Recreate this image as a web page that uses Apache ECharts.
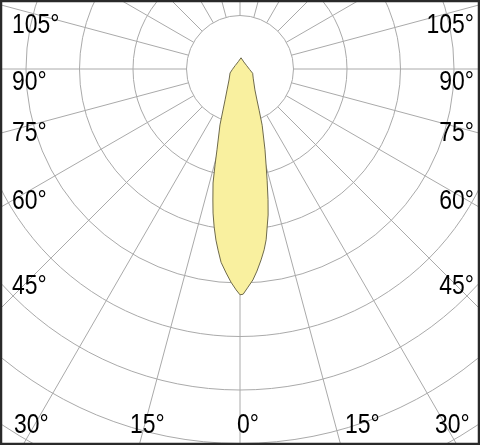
<!DOCTYPE html>
<html>
<head>
<meta charset="utf-8">
<script src="https://cdn.jsdelivr.net/npm/echarts@6/dist/echarts.min.js"></script>
<style>
html,body{margin:0;padding:0;background:#fff;}
#chart{width:480px;height:445px;}
</style>
</head>
<body>
<div id="chart"></div>
<script>
// Light distribution (angle in degrees, 0 = straight down, counter-clockwise on screen; radius in grid-ring units)
const lobeAngles = [0, 0.8, 2.1, 3.5, 4.8, 6.3, 7.6, 8.7, 9.5, 10.9, 12.1, 13.7, 15.2, 17.2, 21.5, 24.9, 28.7, 35.5, 55.3, 71.3, 87.1, 115.6, 151.6, 174.8,
  193.6, 232.1, 272.0, 291.8, 315.0, 328.2, 334.2, 337.5, 340.3, 344.1, 345.4, 346.7, 348.3, 349.4, 350.7, 352.0, 353.1, 354.4, 356.1, 357.6, 359.0, 360];
const lobeValues = [4.22, 4.21, 4.08, 3.95, 3.79, 3.59, 3.41, 3.23, 3.05, 2.78, 2.50, 2.14, 1.86, 1.58, 1.13, 0.85, 0.66, 0.48, 0.30, 0.25, 0.18, 0.14, 0.15, 0.21,
  0.14, 0.11, 0.14, 0.20, 0.29, 0.46, 0.64, 0.83, 1.11, 1.57, 1.85, 2.19, 2.50, 2.74, 2.99, 3.23, 3.41, 3.63, 3.82, 3.99, 4.13, 4.22];

// Tick labels
const sideLabels = ['105°', '90°', '75°', '60°', '45°'];
const bottomLabels = ['30°', '15°', '0°', '15°', '30°'];

const chart = echarts.init(document.getElementById('chart'), null, {renderer: 'canvas'});

const CX = 240, CY = 69, UNIT = 53.5, RINGS = 9;
const FONT = '28px "Liberation Sans", Arial, sans-serif';
const SX = 0.82;
const sideY = [25, 82, 133.5, 201.5, 286];
const bottomX = [14, 130, 237, 345, 435];

function label(t, x, y, align) {
  return {type: 'text', x: x, y: y, z: 10, scaleX: SX, scaleY: 1,
    style: {text: t, font: FONT, fill: '#000', align: align, verticalAlign: 'middle', textAlign: align, textVerticalAlign: 'middle'}};
}

const graphics = [];
sideLabels.forEach((t, i) => {
  graphics.push(label(t, 12, sideY[i], 'left'));
  graphics.push(label(t, 474, sideY[i], 'right'));
});
bottomLabels.forEach((t, i) => {
  graphics.push(label(t, bottomX[i], 425, 'left'));
});
graphics.push({type: 'rect', z: 20, shape: {x: 1, y: 1, width: 478, height: 443},
  style: {fill: 'none', stroke: '#2a2a2a', lineWidth: 2.5}});

const gridLine = {show: true, lineStyle: {color: '#aaaaaa', width: 1}};

chart.setOption({
  animation: false,
  backgroundColor: '#ffffff',
  polar: [
    {center: [CX, CY], radius: [UNIT, UNIT * RINGS]},
    {center: [CX, CY], radius: [0, UNIT * RINGS]}
  ],
  angleAxis: [
    {polarIndex: 0, type: 'value', min: 0, max: 360, interval: 15, startAngle: 270, clockwise: false,
      axisLine: {show: false}, axisTick: {show: false}, axisLabel: {show: false}, splitLine: gridLine},
    {polarIndex: 1, type: 'value', min: 0, max: 360, interval: 15, startAngle: 270, clockwise: false,
      axisLine: {show: false}, axisTick: {show: false}, axisLabel: {show: false}, splitLine: {show: false}}
  ],
  radiusAxis: [
    {polarIndex: 0, type: 'value', min: 1, max: RINGS, interval: 1,
      axisLine: {show: false}, axisTick: {show: false}, axisLabel: {show: false}, splitLine: gridLine},
    {polarIndex: 1, type: 'value', min: 0, max: RINGS, interval: 1,
      axisLine: {show: false}, axisTick: {show: false}, axisLabel: {show: false}, splitLine: {show: false}}
  ],
  series: [{
    type: 'line',
    coordinateSystem: 'polar',
    polarIndex: 1,
    showSymbol: false,
    smooth: false,
    z: 5,
    lineStyle: {color: '#6e6a4c', width: 1},
    areaStyle: {color: '#f9f09f', opacity: 1},
    data: lobeAngles.map((a, i) => [lobeValues[i], a])
  }],
  graphic: graphics
});
</script>
</body>
</html>
